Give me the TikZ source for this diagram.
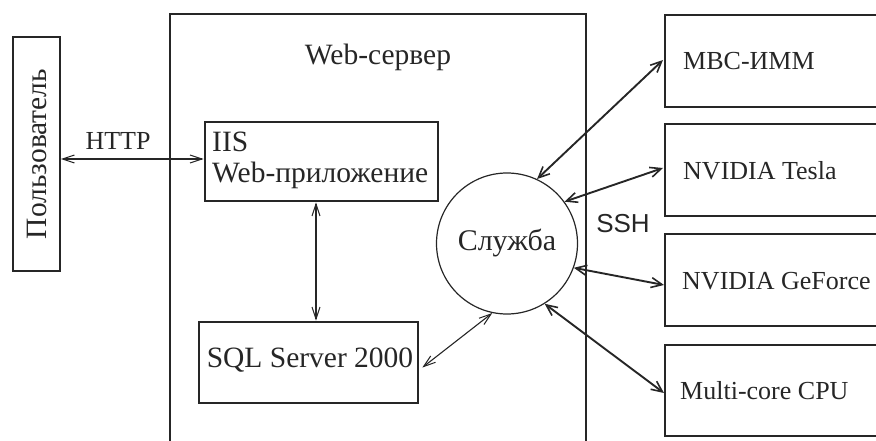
\documentclass[tikz,border=0pt]{standalone}
\usepackage{fontspec}
\setmainfont{Liberation Serif}
\newfontfamily\sshfont{Liberation Sans}
\usetikzlibrary{arrows.meta,calc}
\begin{document}
\begin{tikzpicture}[x=1pt,y=-1pt,
  ink/.style={draw=black!85},
  txt/.style={text=black!85, font=\fontsize{26}{30}\selectfont, inner sep=0pt},
  bigtxt/.style={text=black!85, font=\fontsize{29.5}{31}\selectfont, inner sep=0pt},
  thickbox/.style={ink, line width=2.8pt, rectangle, inner sep=0pt},
  openbox/.style={rectangle, inner sep=0pt, minimum width=215pt, anchor=west},
  thinarr/.style={ink, line width=1.1pt, {Straight Barb[length=12pt,width=8pt,line width=1pt]}-{Straight Barb[length=12pt,width=8pt,line width=1pt]}},
  boldarr/.style={ink, line width=1.9pt, {Straight Barb[length=11pt,width=10pt,line width=1.6pt]}-{Straight Barb[length=11pt,width=10pt,line width=1.6pt]}},
]
\useasboundingbox (0,0) rectangle (876,441);

% Web-server frame (open at bottom)
\coordinate (wsbl) at (170,445);
\coordinate (wsbr) at (586,445);
\draw[ink, line width=1.7pt] (wsbl) |- (586,14) -- (wsbr);
\node[bigtxt] (wstitle) at (378,57) {Web-сервер};

% User
\node[ink, line width=1.7pt, rectangle, rotate=90, minimum width=234pt, minimum height=47pt,
      text=black!85, font=\fontsize{29.5}{31}\selectfont, inner sep=0pt] (user) at (36.5,154) {Пользователь};

% IIS box
\node[thickbox, minimum width=233pt, minimum height=79pt] (iis) at (321.5,161.5) {};
\node[bigtxt, anchor=west, align=left] (iistext) at (212,160) {IIS\\Web-приложение};

% SQL box
\node[thickbox, minimum width=219pt, minimum height=81pt] (sql) at (308.5,362.5) {};
\node[bigtxt] (sqltext) at (310,360) {SQL Server 2000};

% Service circle
\node[ink, line width=1.2pt, circle, minimum size=141pt, inner sep=0pt,
      text=black!85, font=\fontsize{30}{32}\selectfont] (srv) at (507,243.5) {Служба};

% Right boxes (open at right)
\node[openbox, minimum height=92pt] (mbc) at (665,61) {};
\node[openbox, minimum height=92pt] (tesla) at (665,170) {};
\node[openbox, minimum height=92pt] (geforce) at (665,280) {};
\node[openbox, minimum height=91pt] (cpu) at (665,390.5) {};
\foreach \b in {mbc,tesla,geforce,cpu}{
  \draw[ink, line width=1.7pt] (\b.north east) -- (\b.north west) -- (\b.south west) -- (\b.south east);
}
\node[txt, anchor=west] (mbct) at (683,61) {МВС-ИММ};
\node[txt, anchor=west] (teslat) at (683,171) {NVIDIA Tesla};
\node[txt, anchor=west] (geforcet) at (682,281) {NVIDIA GeForce};
\node[txt, anchor=west] (cput) at (680,391) {Multi-core CPU};

% Labels
\node[txt] (http) at (118,141) {HTTP};
\node[txt, font=\sshfont\fontsize{26}{30}\selectfont] (ssh) at (623,224) {SSH};

% Connectors
\coordinate (hy) at (0,159);
\draw[thinarr] (user.south |- hy) -- (iis.west |- hy);
\coordinate (vx) at (316,0);
\draw[thinarr] (iis.south -| vx) -- (sql.north -| vx);
\draw[thinarr] ($(sql.east)+(3,5)$) -- (srv.258);
\draw[boldarr] (srv.65) -- ($(mbc.west)+(-2,-1)$);
\draw[boldarr] (srv.36) -- ($(tesla.west)+(-2,-2)$);
\draw[boldarr] (srv.-20) -- ($(geforce.west)+(-1,5)$);
\draw[boldarr] (srv.-58) -- ($(cpu.west)+(-1,2.5)$);
\end{tikzpicture}
\end{document}
